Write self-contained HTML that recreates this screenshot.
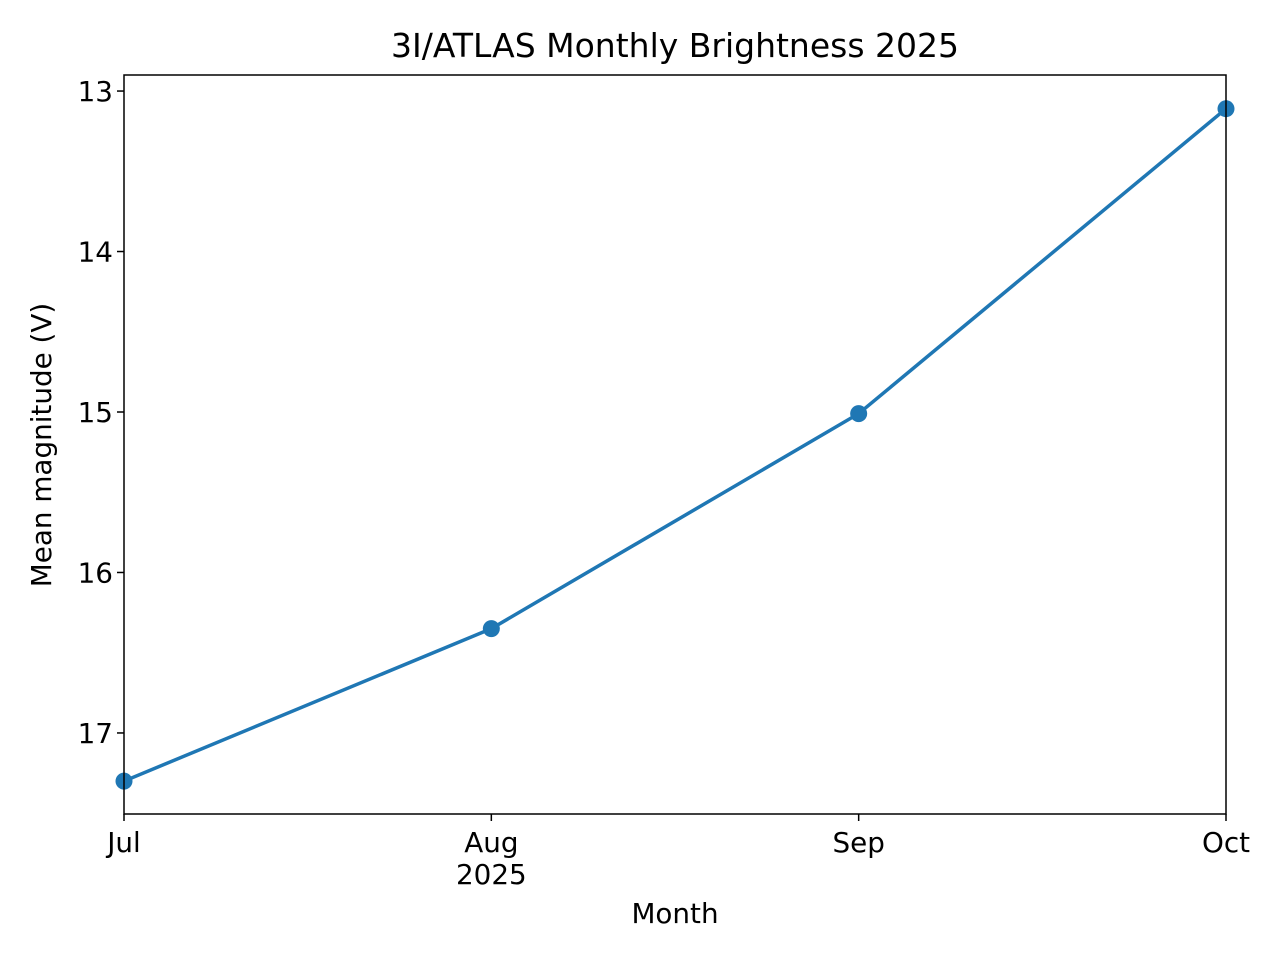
<!DOCTYPE html>
<html><head><meta charset="utf-8"><style>
body{margin:0;background:#fff;}
svg{display:block;font-family:"DejaVu Sans","Liberation Sans",sans-serif;}
</style></head><body>
<svg id="chart" width="1280" height="960">
<rect x="0" y="0" width="1280" height="960" fill="#fff"/>
<text x="675" y="57" font-size="33" text-anchor="middle">3I/ATLAS Monthly Brightness 2025</text>
<text x="675" y="923" font-size="27.8" text-anchor="middle">Month</text>
<text transform="translate(51,445) rotate(-90)" font-size="27.8" text-anchor="middle">Mean magnitude (V)</text>
<g id="ticks"></g>
<g id="marks"></g>
<rect x="124" y="75" width="1102" height="739" fill="none" stroke="#000" stroke-width="1.5"/>
</svg>
<script>
const months = ["Jul","Aug","Sep","Oct"];
const monthSub = ["","2025","",""];
const magnitudes = [17.3,16.35,15.01,13.11];
const yTicks = [13,14,15,16,17];
const NS="http://www.w3.org/2000/svg";
const X0=124,X1=1226,Y0=75,Y1=814;
const yMin=12.9,yMax=17.505;
function xs(i){return X0+i/(months.length-1)*(X1-X0);}
function ys(v){return Y0+(v-yMin)/(yMax-yMin)*(Y1-Y0);}
function mk(t,a){const e=document.createElementNS(NS,t);for(const k in a)e.setAttribute(k,a[k]);return e;}
const tg=document.getElementById('ticks'),mg=document.getElementById('marks');
yTicks.forEach(v=>{
  const y=ys(v);
  const l=mk('line',{x1:X0-7,x2:X0,y1:y,y2:y,stroke:'#000','stroke-width':1.5});
  
  
  tg.appendChild(l);
  const t=mk('text',{x:X0-11,y:y+10,'font-size':27.8,'text-anchor':'end'});
  t.textContent=v;
  
  
  tg.appendChild(t);
});
months.forEach((m,i)=>{
  const x=xs(i);
  const l=mk('line',{x1:x,x2:x,y1:Y1,y2:Y1+7,stroke:'#000','stroke-width':1.5});
  
  
  tg.appendChild(l);
  const t=mk('text',{x:x,y:852,'font-size':27.8,'text-anchor':'middle'});
  t.textContent=m;
  
  
  tg.appendChild(t);
  if(monthSub[i]){
    const s=mk('text',{x:x,y:884,'font-size':27.8,'text-anchor':'middle'});
    s.textContent=monthSub[i];
    
    
    tg.appendChild(s);
  }
});
const pts=magnitudes.map((v,i)=>xs(i)+','+ys(v)).join(' ');
const pl=mk('polyline',{points:pts,fill:'none',stroke:'#1f77b4','stroke-width':3.5});


mg.appendChild(pl);
magnitudes.forEach((v,i)=>{
  const c=mk('circle',{cx:xs(i),cy:ys(v),r:8.5,fill:'#1f77b4'});
  
  
  mg.appendChild(c);
});
</script>
</body></html>
